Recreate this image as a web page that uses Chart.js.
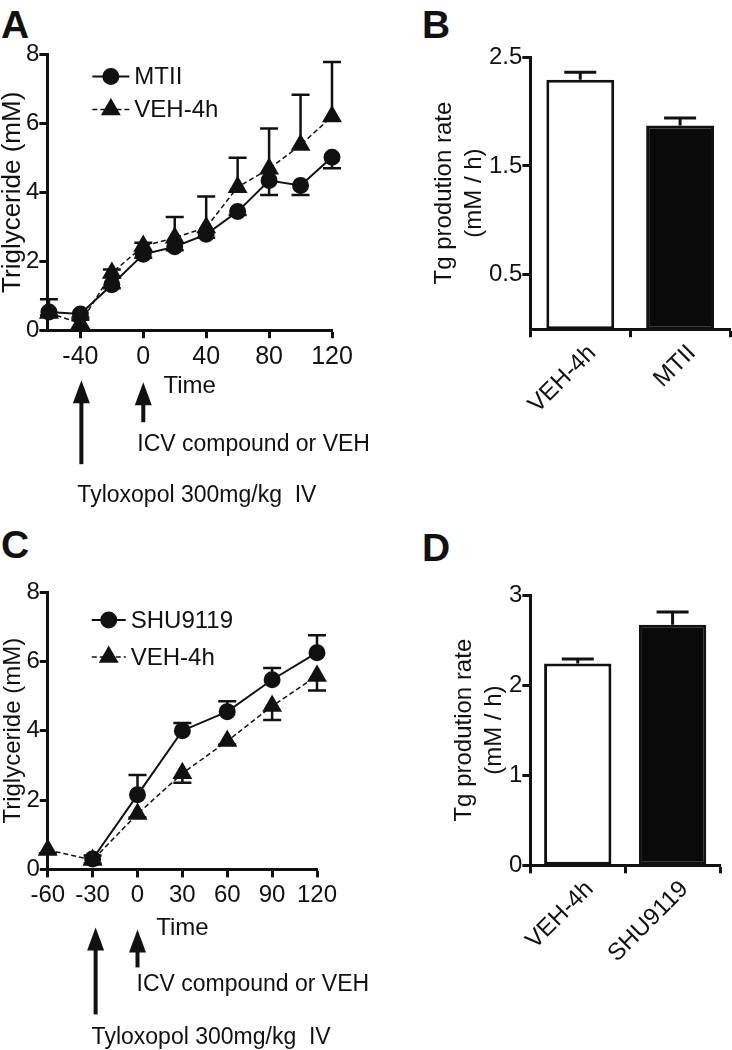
<!DOCTYPE html>
<html><head><meta charset="utf-8">
<script src="https://cdn.jsdelivr.net/npm/chart.js@4/dist/chart.umd.min.js"></script>
<style>
html,body{margin:0;padding:0;background:#fff;}
body{width:732px;height:1050px;position:relative;overflow:hidden;font-family:"Liberation Sans",Arial,sans-serif;}
.pl{position:absolute;font-weight:bold;font-size:39px;line-height:1;color:#111;}
canvas{position:absolute;}
</style></head><body>
<div class="pl" style="left:1px;top:5px">A</div>
<div class="pl" style="left:422px;top:5px">B</div>
<div class="pl" style="left:1px;top:525px">C</div>
<div class="pl" style="left:422px;top:528px">D</div>
<canvas id="cA" width="385" height="480" style="left:0;top:40px"></canvas>
<canvas id="cC" width="385" height="490" style="left:0;top:560px"></canvas>
<canvas id="cB" width="372" height="400" style="left:360px;top:40px"></canvas>
<canvas id="cD" width="372" height="420" style="left:360px;top:560px"></canvas>
<script>
// ---------- DATA ----------
// Panel A
const timesA = [-60, -40, -20, 0, 20, 40, 60, 80, 100, 120];
const mtiiA = [0.53, 0.47, 1.32, 2.2, 2.42, 2.78, 3.44, 4.34, 4.2, 5.02];
const mtiiErrA = [0.1, 0.1, 0.1, 0.1, 0.1, 0.1, 0.1, 0.42, 0.28, 0.32];
const vehA = [0.5, 0.2, 1.66, 2.44, 2.68, 2.98, 4.15, 4.68, 5.37, 6.2];
const vehErrA = [0.4, 0.1, 0.1, 0.1, 0.6, 0.9, 0.85, 1.17, 1.46, 1.58];
const xTicksA = [-40, 0, 40, 80, 120];
const yTicksA = [0, 2, 4, 6, 8];
// Panel B
const groupsB = ['VEH-4h', 'MTII'];
const rateB = [2.29, 1.87];
const rateErrB = [0.07, 0.07];
const yTicksB = [0.5, 1.5, 2.5];
// Panel C
const timesC = [-60, -30, 0, 30, 60, 90, 120];
const shuC = [null, 0.3, 2.15, 4.0, 4.55, 5.47, 6.25];
const shuErrC = [null, 0.1, 0.57, 0.22, 0.3, 0.34, 0.5];
const vehC = [0.56, 0.27, 1.6, 2.77, 3.7, 4.71, 5.58];
const vehErrC = [0.1, 0.1, 0.1, 0.27, 0.1, 0.4, 0.42];
const xTicksC = [-60, -30, 0, 30, 60, 90, 120];
const yTicksC = [0, 2, 4, 6, 8];
// Panel D
const groupsD = ['VEH-4h', 'SHU9119'];
const rateD = [2.24, 2.67];
const rateErrD = [0.05, 0.14];
const yTicksD = [0, 1, 2, 3];

// ---------- STYLE / PLUGINS ----------
const FONT = '"Liberation Sans", Arial, sans-serif';
const INK = '#111';

const errorBars = {
  id: 'errorBars',
  beforeDatasetsDraw(chart) {
    const ctx = chart.ctx;
    chart.data.datasets.forEach((ds, i) => {
      if (!ds.errors) return;
      const meta = chart.getDatasetMeta(i);
      const ys = chart.scales[meta.yAxisID];
      ctx.save();
      ctx.strokeStyle = INK;
      ctx.lineWidth = ds.errWidth || 2.5;
      ctx.setLineDash([]);
      meta.data.forEach((el, j) => {
        const d = ds.data[j];
        const v = (d !== null && typeof d === 'object') ? d.y : d;
        const e = ds.errors[j];
        if (v == null || e == null) return;
        const x = el.x;
        const y0 = ys.getPixelForValue(v);
        const y1 = ys.getPixelForValue(v + ds.errDir * e);
        const hw = (ds.capWidth || 18) / 2;
        ctx.beginPath();
        ctx.moveTo(x, y0); ctx.lineTo(x, y1);
        ctx.moveTo(x - hw, y1); ctx.lineTo(x + hw, y1);
        ctx.stroke();
      });
      ctx.restore();
    });
  }
};

const lineLegend = {
  id: 'lineLegend',
  afterDraw(chart, args, opts) {
    if (!opts || !opts.show) return;
    const ctx = chart.ctx, ca = chart.chartArea;
    chart.data.datasets.forEach((ds, i) => {
      const cy = ca.top + opts.y + i * opts.dy;
      const x0 = ca.left + opts.x;
      ctx.save();
      ctx.strokeStyle = INK;
      ctx.fillStyle = INK;
      ctx.lineWidth = ds.borderWidth;
      ctx.setLineDash(ds.borderDash || []);
      ctx.beginPath();
      ctx.moveTo(x0, cy); ctx.lineTo(x0 + opts.len, cy);
      ctx.stroke();
      ctx.setLineDash([]);
      Chart.helpers.drawPoint(ctx, {pointStyle: ds.pointStyle, radius: ds.pointRadius, borderWidth: 1, rotation: 0}, x0 + opts.len / 2, cy);
      ctx.font = opts.fontSize + 'px ' + FONT;
      ctx.textBaseline = 'middle';
      ctx.textAlign = 'left';
      ctx.fillText(ds.label, x0 + opts.len + opts.gap, cy + 1);
      ctx.restore();
    });
  }
};

const arrowNotes = {
  id: 'arrowNotes',
  afterDraw(chart, args, opts) {
    if (!opts || !opts.arrows) return;
    const ctx = chart.ctx, xs = chart.scales.x, base = chart.chartArea.bottom;
    ctx.save();
    ctx.fillStyle = INK;
    opts.arrows.forEach(a => {
      const x = xs.getPixelForValue(a.at) + (a.dx || 0);
      const top = base + a.top, bot = base + a.bottom;
      ctx.fillRect(x - 2, top + 20, 4, bot - top - 20);
      ctx.beginPath();
      ctx.moveTo(x, top); ctx.lineTo(x - 8.5, top + 23); ctx.lineTo(x + 8.5, top + 23);
      ctx.closePath(); ctx.fill();
      ctx.font = '23px ' + FONT;
      ctx.textBaseline = 'middle';
      ctx.textAlign = 'left';
      ctx.fillText(a.text, x + a.tx, base + a.ty);
    });
    ctx.restore();
  }
};

function axis(extra, tickVals, tickPad, fs) {
  const base = {
    border: {display: true, color: INK, width: 3},
    grid: {display: true, drawOnChartArea: false, drawTicks: true, tickLength: 8, tickWidth: 3, tickColor: INK},
    ticks: {color: INK, font: {family: FONT, size: fs || 24}, padding: tickPad, autoSkip: false, maxRotation: 0, minRotation: 0},
  };
  if (tickVals) base.afterBuildTicks = s => { s.ticks = tickVals.map(v => ({value: v})); };
  return Object.assign(base, extra);
}
function title(text, lh, fs, padTop) {
  return {display: true, text: text, color: INK, font: {family: FONT, size: fs || 24, lineHeight: lh || 1.2}, padding: {top: padTop || 0, bottom: 0}};
}

function lineSet(label, xs, ys, errs, dir, style) {
  return Object.assign({
    label: label,
    data: xs.map((t, i) => ({x: t, y: ys[i]})),
    showLine: true, spanGaps: false, clip: false,
    borderColor: INK, backgroundColor: INK,
    pointBackgroundColor: INK, pointBorderColor: INK,
    errors: errs, errDir: dir
  }, style);
}

const common = {responsive: false, animation: false, events: []};

// ---------- PANEL A ----------
new Chart(document.getElementById('cA'), {
  type: 'scatter',
  data: {datasets: [
    lineSet('MTII', timesA, mtiiA, mtiiErrA, -1, {borderWidth: 2, pointStyle: 'circle', pointRadius: 7.5}),
    lineSet('VEH-4h', timesA, vehA, vehErrA, 1, {borderWidth: 1.5, borderDash: [5, 3], pointStyle: 'triangle', pointRadius: 10})
  ]},
  options: Object.assign({}, common, {
    layout: {padding: {left: 0, top: 1, right: 53, bottom: 119}},
    scales: {
      x: axis({type: 'linear', min: -61, max: 120, title: title('Time', 1.2, 24, -4)}, xTicksA, 4, 25),
      y: axis({min: 0, max: 8, title: title('Triglyceride (mM)', 1.0, 26)}, yTicksA, 0, 24)
    },
    plugins: {
      legend: {display: false}, tooltip: {enabled: false},
      lineLegend: {show: true, x: 45, y: 22, dy: 33, len: 37, gap: 5, fontSize: 24},
      arrowNotes: {arrows: [
        {at: -40, dx: 1, top: 50, bottom: 134, text: 'Tyloxopol 300mg/kg  IV', tx: -4, ty: 165},
        {at: 0, dx: 0, top: 52, bottom: 92, text: 'ICV compound or VEH', tx: -6, ty: 114}
      ]}
    }
  }),
  plugins: [errorBars, lineLegend, arrowNotes]
});

// ---------- BAR PANELS ----------
function barChart(id, labels, vals, errs, ticks, yMax, pad, barPct, lblOff) {
  new Chart(document.getElementById(id), {
    type: 'bar',
    data: {labels: labels, datasets: [{
      data: vals, errors: errs, errDir: 1, capWidth: 32, errWidth: 3,
      backgroundColor: ['#ffffff', '#0a0a0a'], borderColor: INK, borderWidth: 3, borderSkipped: false,
      barPercentage: barPct, categoryPercentage: 1
    }]},
    options: Object.assign({}, common, {
      layout: {padding: pad},
      scales: {
        x: axis({ticks: {color: INK, font: {family: FONT, size: 24}, padding: 2, minRotation: 45, maxRotation: 45, labelOffset: lblOff, autoSkip: false}}, null, 2),
        y: axis({min: 0, max: yMax, title: title(['Tg prodution rate', '(mM / h)'], 1.25)}, ticks, 0)
      },
      plugins: {legend: {display: false}, tooltip: {enabled: false}}
    }),
    plugins: [errorBars]
  });
}
barChart('cB', groupsB, rateB, rateErrB, yTicksB, 2.5, {left: 69, top: 17, right: 2, bottom: 19}, 0.68, 12);

// ---------- PANEL C ----------
new Chart(document.getElementById('cC'), {
  type: 'scatter',
  data: {datasets: [
    lineSet('SHU9119', timesC, shuC, shuErrC, 1, {borderWidth: 2, pointStyle: 'circle', pointRadius: 7.5}),
    lineSet('VEH-4h', timesC, vehC, vehErrC, -1, {borderWidth: 1.5, borderDash: [5, 3], pointStyle: 'triangle', pointRadius: 10})
  ]},
  options: Object.assign({}, common, {
    layout: {padding: {left: 0, top: 32, right: 68, bottom: 107}},
    scales: {
      x: axis({type: 'linear', min: -60, max: 120, title: title('Time')}, xTicksC, 4),
      y: axis({min: 0, max: 8, title: title('Triglyceride (mM)', 1.1)}, yTicksC, 0)
    },
    plugins: {
      legend: {display: false}, tooltip: {enabled: false},
      lineLegend: {show: true, x: 44, y: 28, dy: 37, len: 34, gap: 5, fontSize: 24},
      arrowNotes: {arrows: [
        {at: -30, dx: 3, top: 58, bottom: 145, text: 'Tyloxopol 300mg/kg  IV', tx: -4, ty: 168},
        {at: 0, dx: 0, top: 60, bottom: 98, text: 'ICV compound or VEH', tx: -1, ty: 115}
      ]}
    }
  }),
  plugins: [errorBars, lineLegend, arrowNotes]
});

// ---------- PANEL D ----------
barChart('cD', groupsD, rateD, rateErrD, yTicksD, 3, {left: 89, top: 35, right: 12, bottom: 10}, 0.71, 12);
</script>
</body></html>
